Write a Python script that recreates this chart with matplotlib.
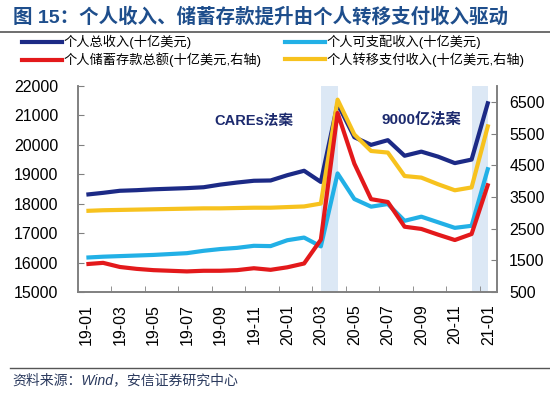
# -*- coding: utf-8 -*-
"""图15：个人收入、储蓄存款与转移支付收入（2019-01 至 2021-01）"""

import matplotlib
matplotlib.use('Agg')
import matplotlib.pyplot as plt
from matplotlib.lines import Line2D

plt.rcParams['font.family'] = ['Liberation Sans', 'Noto Sans CJK SC', 'DejaVu Sans']
plt.rcParams['axes.unicode_minus'] = False

# 数据（十亿美元，年化）
months = ['19-01', '19-02', '19-03', '19-04', '19-05', '19-06', '19-07', '19-08',
          '19-09', '19-10', '19-11', '19-12', '20-01', '20-02', '20-03', '20-04',
          '20-05', '20-06', '20-07', '20-08', '20-09', '20-10', '20-11', '20-12',
          '21-01']
total_income = [18310, 18370, 18440, 18460, 18490, 18510, 18530, 18560, 18650,
                18720, 18780, 18790, 18970, 19120, 18740, 21400, 20260, 20000,
                20160, 19630, 19770, 19600, 19380, 19500, 21480]
disposable_income = [16170, 16200, 16220, 16240, 16260, 16290, 16320, 16400,
                     16460, 16500, 16570, 16560, 16760, 16850, 16550, 19030,
                     18160, 17900, 17990, 17420, 17560, 17370, 17180, 17250,
                     19240]
savings = [1380, 1420, 1290, 1230, 1190, 1170, 1150, 1170, 1170, 1190, 1250,
           1200, 1280, 1400, 2150, 6150, 4550, 3430, 3340, 2560, 2490, 2310,
           2140, 2330, 3930]
transfer = [3060, 3080, 3090, 3100, 3110, 3120, 3130, 3140, 3140, 3150, 3160,
            3160, 3180, 3200, 3290, 6570, 5470, 4950, 4900, 4160, 4110, 3900,
            3710, 3800, 5790]
# 法案对应的阴影区间（起止月份）
bill_spans = [('20-03', '20-04'), ('20-12', '21-01')]

NAVY = '#1c2a86'
CYAN = '#22b0e6'
RED = '#e3191b'
GOLD = '#f7c21e'
SPINE = '#808080'

fig = plt.figure(figsize=(5.5, 3.96), dpi=100)
ax = fig.add_axes([0.1418, 0.2626, 0.7613, 0.5202])
ax2 = ax.twinx()

x = list(range(len(months)))

for start, end in bill_spans:
    ax.axvspan(months.index(start), months.index(end), color='#dce8f5', lw=0, zorder=0)

ax.plot(x, total_income, color=NAVY, lw=3, solid_capstyle='butt', zorder=3)
ax.plot(x, disposable_income, color=CYAN, lw=3, solid_capstyle='butt', zorder=3)
ax2.plot(x, transfer, color=GOLD, lw=3, solid_capstyle='butt')
ax2.plot(x, savings, color=RED, lw=3, solid_capstyle='butt')

ax.set_xlim(-0.5, len(months) - 0.5)
ax.set_ylim(15000, 22000)
ax2.set_ylim(500, 7000)
ax.set_yticks(range(15000, 22001, 1000))
ax2.set_yticks(range(500, 6501, 1000))

# x轴：标签隔月显示，刻度线在类别之间
ax.set_xticks(x[::2])
ax.set_xticklabels(months[::2], rotation=90)
ax.set_xticks([i + 0.5 for i in range(1, len(months) - 1, 2)], minor=True)
ax.tick_params(axis='x', which='major', length=0, pad=9, labelsize=11.5)
ax.tick_params(axis='x', which='minor', length=4, direction='in', color=SPINE)
ax.tick_params(axis='y', direction='in', length=4, pad=14, labelsize=11.5, color=SPINE)
ax2.tick_params(axis='y', direction='in', length=4, pad=9, labelsize=11.5, color=SPINE)

for a in (ax, ax2):
    a.spines['top'].set_visible(False)
    for s in ('left', 'right', 'bottom'):
        a.spines[s].set_color(SPINE)
        a.spines[s].set_linewidth(1.2)

ax.text(10.0, 20800, 'CAREs法案', fontsize=10.5, fontweight='bold', color='#1c2a6e',
        ha='center', va='center')
ax2.text(20.0, 5950, '9000亿法案', fontsize=11, fontweight='bold', color='#1c2a6e',
         ha='center', va='center')

# 标题与分隔线
fig.text(0.023, 0.958, '图 15：个人收入、储蓄存款提升由个人转移支付收入驱动',
         fontsize=14, fontweight='bold', color='#1e4e8c', ha='left', va='center')
fig.add_artist(Line2D([0, 1], [0.92, 0.92], color='#555555', lw=1.2))
fig.add_artist(Line2D([0.018, 1], [0.071, 0.071], color='#555555', lw=1.0))
fig.text(0.022, 0.04, '资料来源：Wind，安信证券研究中心', fontsize=10, style='italic',
         color='#2b3a5e', ha='left', va='center')

handles = [Line2D([], [], color=NAVY, lw=3), Line2D([], [], color=RED, lw=3),
           Line2D([], [], color=CYAN, lw=3), Line2D([], [], color=GOLD, lw=3)]
labels = ['个人总收入(十亿美元)', '个人储蓄存款总额(十亿美元,右轴)',
          '个人可支配收入(十亿美元)', '个人转移支付收入(十亿美元,右轴)']
fig.legend(handles, labels, loc='upper left', bbox_to_anchor=(0.04, 0.912), ncol=2,
           frameon=False, fontsize=9.5, handlelength=3.0, handletextpad=0.15,
           columnspacing=1.8, labelspacing=0.25, borderpad=0, borderaxespad=0)

fig.savefig('out.png', dpi=100)
